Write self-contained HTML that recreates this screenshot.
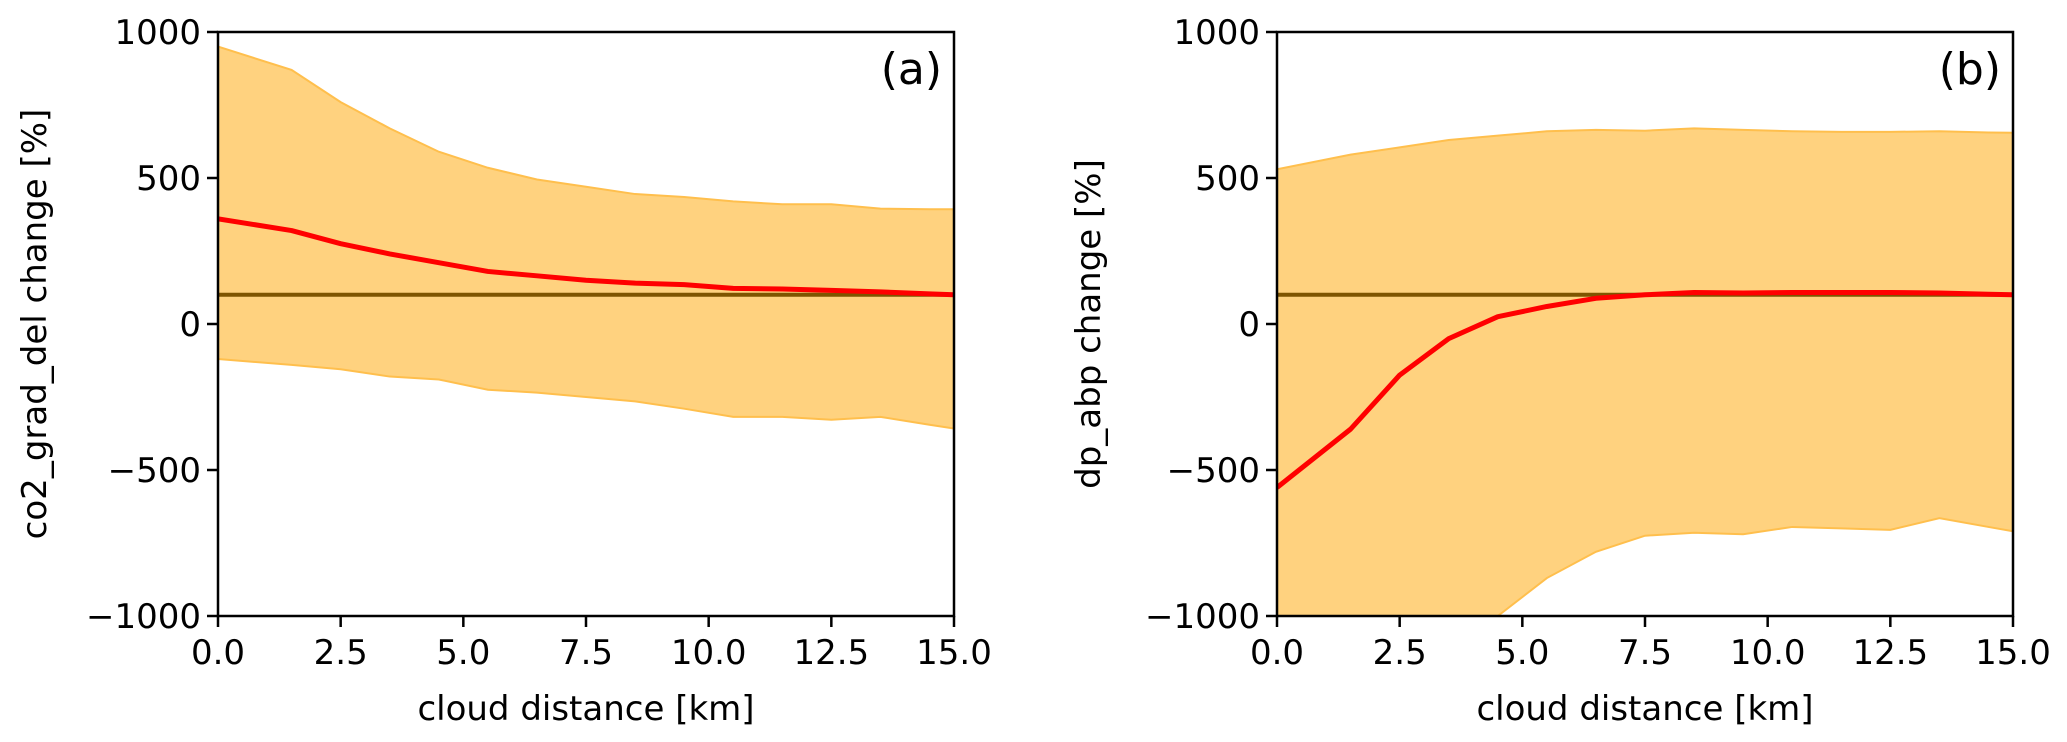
<!DOCTYPE html>
<html><head><meta charset="utf-8"><style>
body{margin:0;background:#fff}
svg{display:block;font-family:"DejaVu Sans","Liberation Sans",sans-serif}
</style></head><body>
<svg id="chart" width="2067" height="742" viewBox="0 0 2067 742" xmlns="http://www.w3.org/2000/svg"></svg>
<script>
const xs = [0,1.5,2.5,3.5,4.5,5.5,6.5,7.5,8.5,9.5,10.5,11.5,12.5,13.5,14.5,15];
const upperA = [950,870,760,670,590,535,495,470,445,435,420,410,410,395,393,393];
const meanA  = [360,320,275,240,210,180,165,150,140,135,122,120,115,110,103,100];
const lowerA = [-120,-140,-155,-180,-190,-225,-235,-250,-265,-290,-318,-318,-328,-318,-345,-358];
const upperB = [530,580,605,630,645,660,665,662,670,665,660,658,658,660,656,655];
const meanB  = [-560,-360,-175,-50,25,60,88,100,108,106,108,108,108,106,102,100];
const lowerB = [-1150,-1200,-1200,-1100,-1000,-870,-780,-725,-715,-720,-695,-700,-705,-665,-695,-710];
const refValue = 100;
const yTicks = [1000,500,0,-500,-1000];
const yTickLabels = ["1000","500","0","\u2212500","\u22121000"];
const xTicks = [0,2.5,5,7.5,10,12.5,15];
const xTickLabels = ["0.0","2.5","5.0","7.5","10.0","12.5","15.0"];

const NS="http://www.w3.org/2000/svg";
const svg=document.getElementById('chart');
function mk(tag,attrs,parent){const e=document.createElementNS(NS,tag);for(const k in attrs)e.setAttribute(k,attrs[k]);(parent||svg).appendChild(e);return e;}
const TOP=32,BOT=616;
function yS(v){return TOP+(1000-v)/2000*(BOT-TOP);}

function panel(id,x0,x1,upper,mean,lower,ylabel,tag,ylabX){
  const g=mk('g',{});
  
  
  const xS=v=>x0+v/15*(x1-x0);
  const cp=mk('clipPath',{id:'clip'+id},g);
  mk('rect',{x:x0,y:TOP,width:x1-x0,height:BOT-TOP},cp);
  const pg=mk('g',{'clip-path':'url(#clip'+id+')'},g);
  let d='';
  xs.forEach((x,i)=>{d+=(i?'L':'M')+xS(x)+','+yS(upper[i]);});
  for(let i=xs.length-1;i>=0;i--)d+='L'+xS(xs[i])+','+yS(lower[i]);
  const band=mk('path',{d:d+'Z',fill:'#ffd27f',stroke:'none'},pg);
  
  
  const up=mk('polyline',{points:xs.map((x,i)=>xS(x)+','+yS(upper[i])).join(' '),fill:'none',stroke:'#ffbf4d',"stroke-width":2},pg);
  
  
  const lo=mk('polyline',{points:xs.map((x,i)=>xS(x)+','+yS(lower[i])).join(' '),fill:'none',stroke:'#ffbf4d',"stroke-width":2},pg);
  
  
  const ref=mk('line',{x1:x0,x2:x1,y1:yS(refValue),y2:yS(refValue),stroke:'#7f5500',"stroke-width":4},pg);
  
  
  const ml=mk('polyline',{points:xs.map((x,i)=>xS(x)+','+yS(mean[i])).join(' '),fill:'none',stroke:'#ff0000',"stroke-width":5,"stroke-linejoin":"round"},pg);
  
  
  const fr=mk('rect',{x:x0,y:TOP,width:x1-x0,height:BOT-TOP,fill:'none',stroke:'#000',"stroke-width":2.5},g);
  
  
  yTicks.forEach((v,i)=>{
    mk('line',{x1:x0-11,x2:x0,y1:yS(v),y2:yS(v),stroke:'#000',"stroke-width":2.5},g);
    const t=mk('text',{x:x0-17,y:yS(v)+12,"text-anchor":"end","font-size":34},g);
    t.textContent=yTickLabels[i];
    
    
  });
  xTicks.forEach((v,i)=>{
    mk('line',{x1:xS(v),x2:xS(v),y1:BOT,y2:BOT+11,stroke:'#000',"stroke-width":2.5},g);
    const t=mk('text',{x:xS(v),y:BOT+48,"text-anchor":"middle","font-size":34},g);
    t.textContent=xTickLabels[i];
    
    
  });
  const xl=mk('text',{x:(x0+x1)/2,y:720,"text-anchor":"middle","font-size":34},g);
  xl.textContent='cloud distance [km]';
  
  
  const yl=mk('text',{x:0,y:0,"text-anchor":"middle","font-size":34,transform:'translate('+ylabX+','+(TOP+BOT)/2+') rotate(-90)'},g);
  yl.textContent=ylabel;
  
  
  const pl=mk('text',{x:x1-12,y:84,"text-anchor":"end","font-size":44},g);
  pl.textContent=tag;
  
  
}
panel('a',218,954,upperA,meanA,lowerA,'co2_grad_del change [%]','(a)',46);
panel('b',1277,2013,upperB,meanB,lowerB,'dp_abp change [%]','(b)',1100);
</script>
</body></html>
